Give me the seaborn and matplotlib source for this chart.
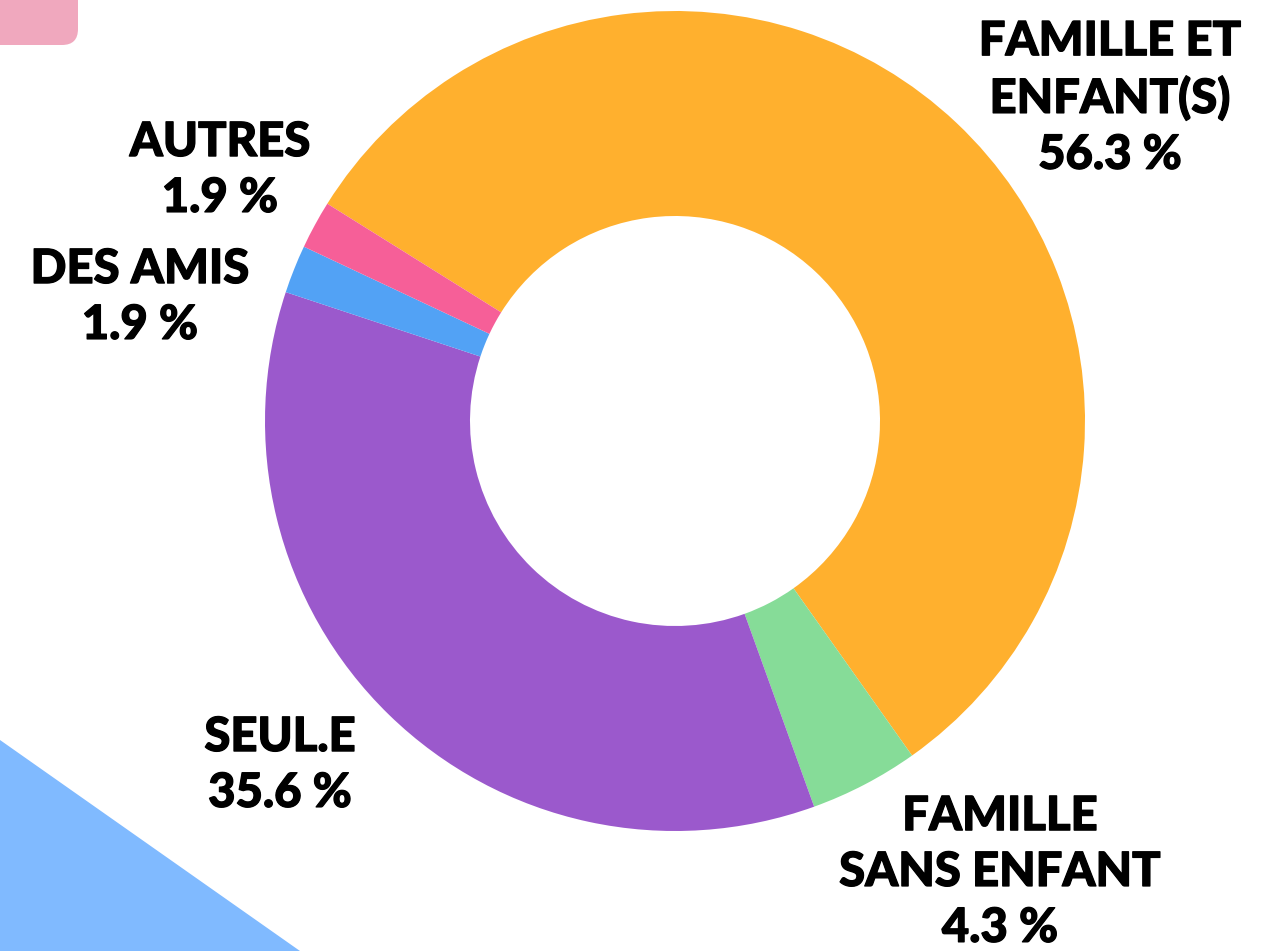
import matplotlib
matplotlib.use("Agg")
import matplotlib.pyplot as plt
from matplotlib.patches import FancyBboxPatch, Polygon
import matplotlib.patheffects as pe
import seaborn as sns

# Household composition shares (%)
categories = ["FAMILLE ET\nENFANT(S)", "FAMILLE\nSANS ENFANT", "SEUL.E", "DES AMIS", "AUTRES"]
values = [56.3, 4.3, 35.6, 1.9, 1.9]
colors = ["#FFB02E", "#86DC98", "#9B59CC", "#52A2F5", "#F65F98"]

sns.set_theme(style="white")
plt.rcParams["font.family"] = ["Lato", "DejaVu Sans"]

W, H = 1281, 951
fig = plt.figure(figsize=(W / 100, H / 100), dpi=100)
ax = fig.add_axes([0, 0, 1, 1])

# Decorative shapes in the corners
ax.add_patch(FancyBboxPatch((-40, H - 45), 118, 80,
                            boxstyle="round,pad=0,rounding_size=16",
                            fc="#F0A8BE", ec="none", zorder=0))
ax.add_patch(Polygon([(0, H - 740), (300, 0), (0, 0)], closed=True,
                     fc="#80BAFF", ec="none", zorder=0))

# Donut
cx, cy, r = 675, H - 421, 410
ax.pie(values, colors=colors, startangle=148, counterclock=False,
       center=(cx, cy), radius=r, frame=True,
       wedgeprops=dict(width=r * 0.5, edgecolor="none", linewidth=0))
ax.set_xlim(0, W)
ax.set_ylim(0, H)
ax.set_aspect("equal")
ax.axis("off")

# Labels: block centers
label_pos = [(1110, H - 98), (1000, H - 872), (280, H - 765), (140, H - 297), (220, H - 170)]
for name, v, (x, y) in zip(categories, values, label_pos):
    ax.text(x, y, f"{name}\n{v:.1f} %", ha="center", va="center",
            fontsize=34, fontweight="black", color="black",
            linespacing=1.33, zorder=5,
            path_effects=[pe.withStroke(linewidth=0.9, foreground="black")])

fig.savefig("out.png", dpi=100)
